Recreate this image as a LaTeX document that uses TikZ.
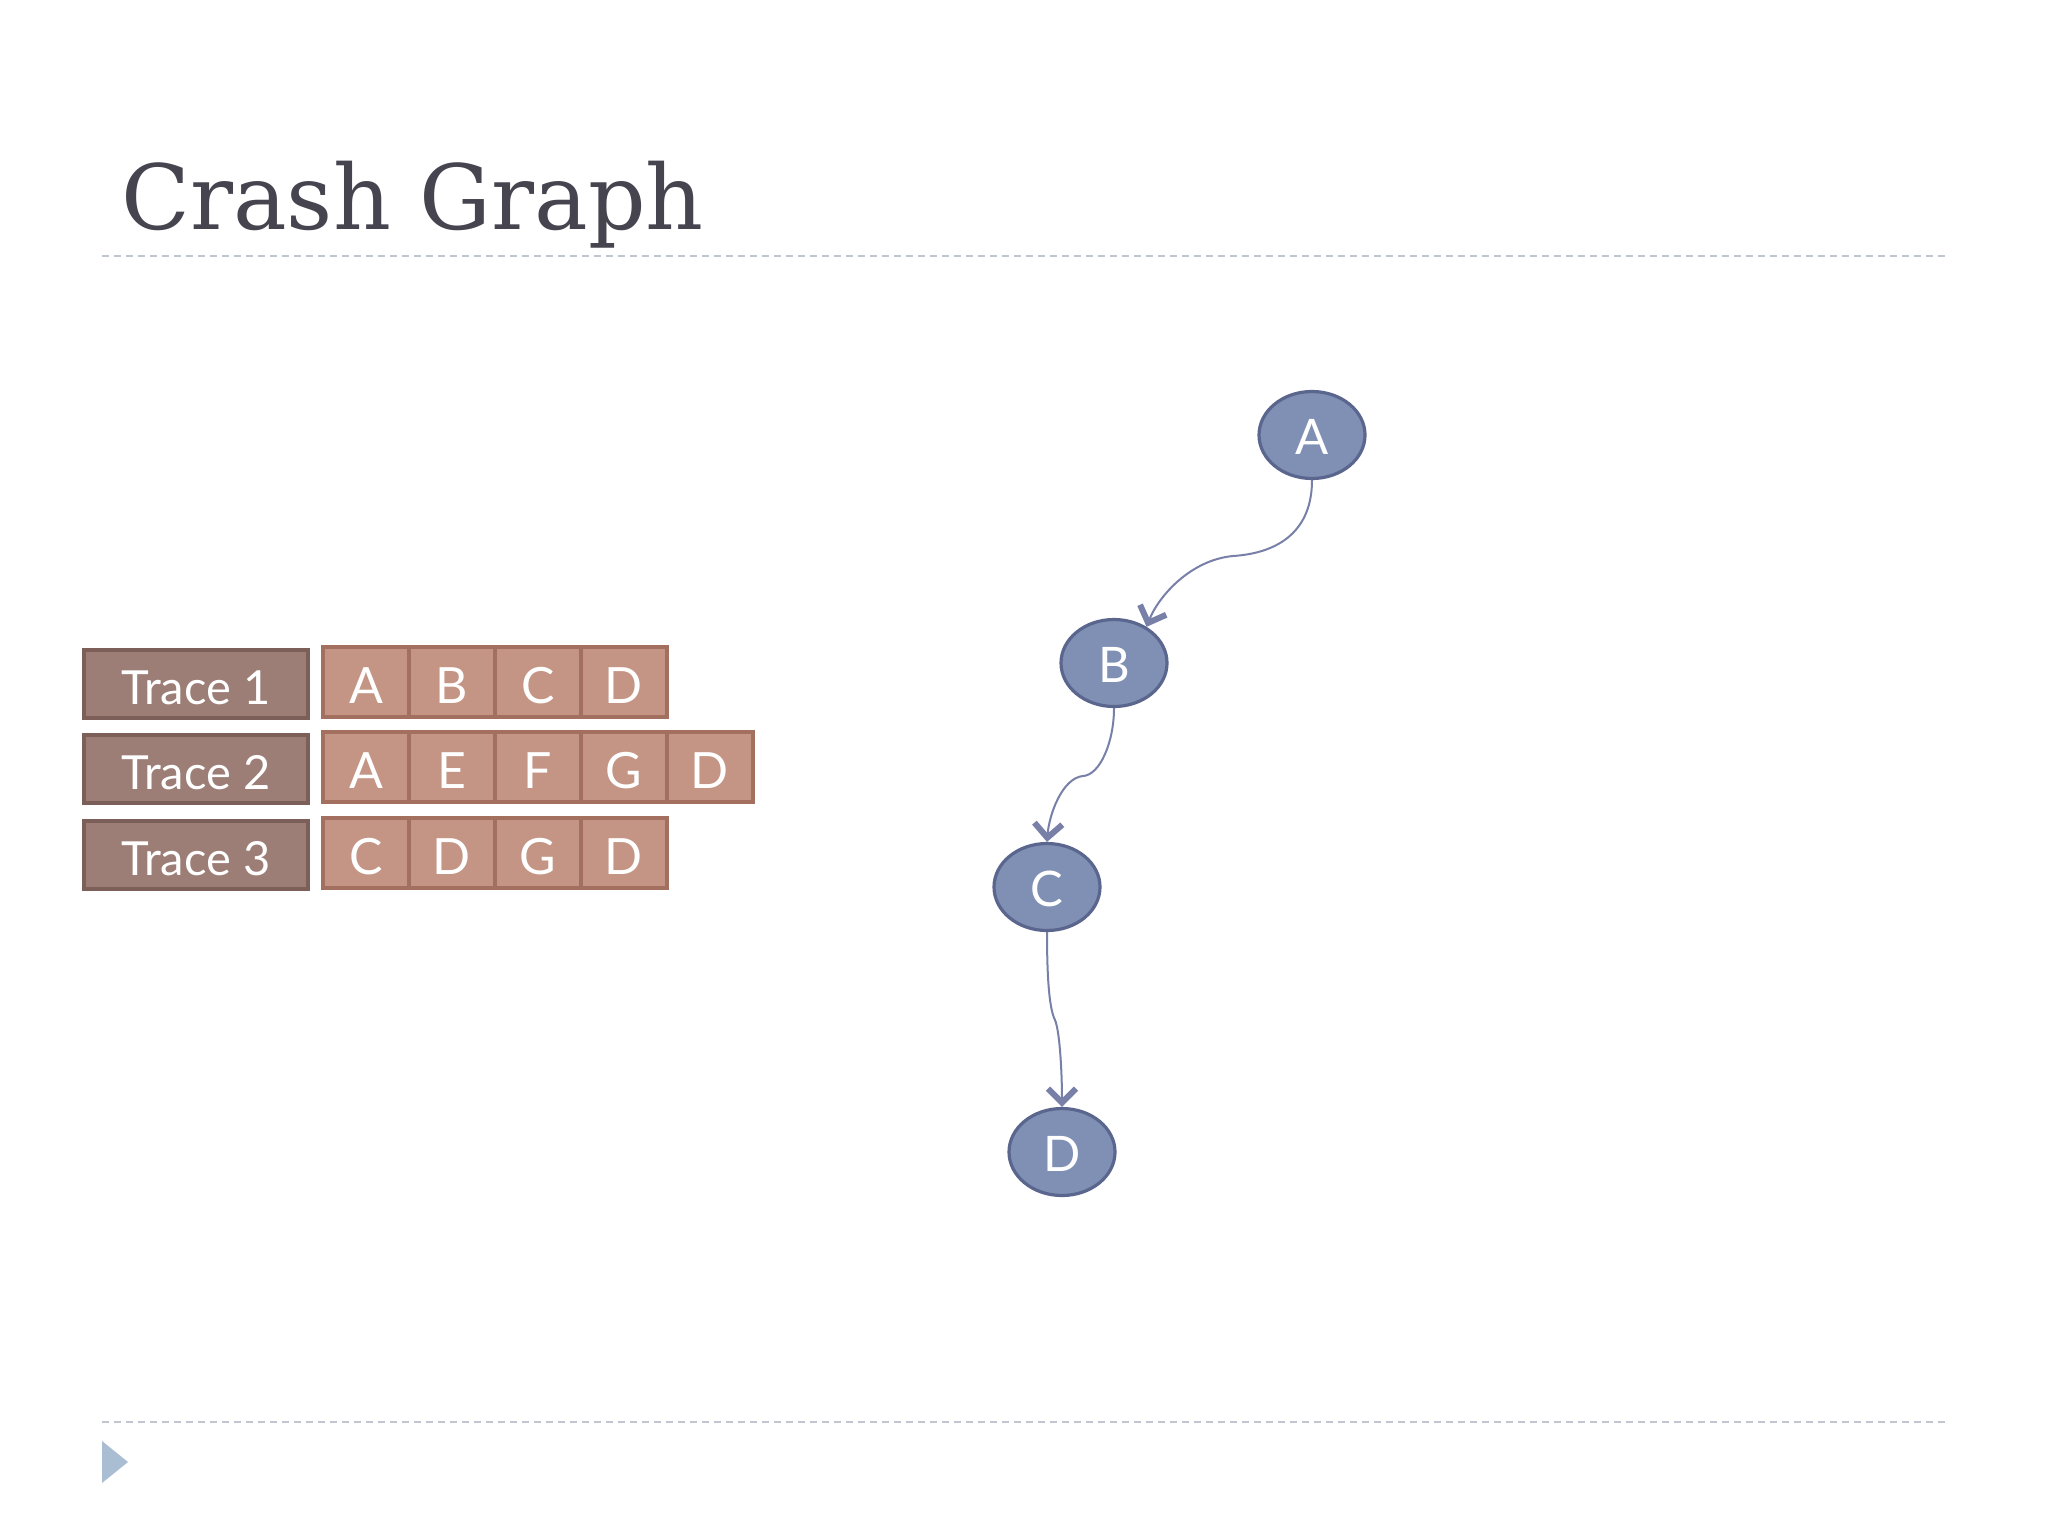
\documentclass[tikz,border=0pt]{standalone}
\usepackage{fontspec}
\setmainfont{DejaVu Serif}
\newfontfamily\gill{Lato}
\usetikzlibrary{shapes.geometric,arrows.meta}
\definecolor{titlecol}{HTML}{45444F}
\definecolor{dashcol}{HTML}{BFC6CF}
\definecolor{trifill}{HTML}{A9BDD3}
\definecolor{tracefill}{HTML}{9C7E76}
\definecolor{tracedraw}{HTML}{7B5F58}
\definecolor{cellfill}{HTML}{C49584}
\definecolor{celldraw}{HTML}{A3705F}
\definecolor{nodefill}{HTML}{8090B4}
\definecolor{nodedraw}{HTML}{5A668E}
\definecolor{edgecol}{HTML}{7880A8}
\tikzset{
  tracebox/.style={rectangle, draw=tracedraw, fill=tracefill, line width=1.6pt,
    minimum width=112pt, minimum height=34pt, inner sep=0pt, text=white,
    text height=20.5pt, text depth=0pt,
    font=\gill\fontsize{23.5}{23.5}\selectfont},
  cellbox/.style={rectangle, draw=celldraw, fill=cellfill, line width=1.6pt,
    minimum width=43pt, minimum height=35pt, inner sep=0pt, text=white,
    text height=21.5pt, text depth=0pt,
    font=\gill\fontsize{25}{25}\selectfont},
  gnode/.style={ellipse, draw=nodedraw, fill=nodefill, line width=1.6pt,
    minimum width=53pt, minimum height=43.5pt, inner sep=0pt, text=white,
    text height=19.5pt, text depth=0pt,
    font=\gill\fontsize{24.5}{24.5}\selectfont},
  gedge/.style={draw=edgecol, line width=1pt,
    -{Straight Barb[length=7pt,width=14pt,line width=3pt]}},
  rule/.style={draw=dashcol, line width=1pt, dash pattern=on 3.5pt off 2.5pt}
}
\begin{document}
\begin{tikzpicture}[x=0.5pt,y=-0.5pt]
\useasboundingbox[fill=white] (0,0) rectangle (2048,1536);
% title
\node[anchor=base west, inner sep=0pt, text=titlecol, font=\fontsize{45}{45}\selectfont] (title) at (121,229) {Crash Graph};
\coordinate (r1a) at (102,256); \coordinate (r1b) at (1946,256);
\coordinate (r2a) at (102,1422); \coordinate (r2b) at (1946,1422);
\draw[rule] (r1a) -- (r1b);
\draw[rule] (r2a) -- (r2b);
\fill[trifill] (102,1441) -- (128,1462) -- (102,1483) -- cycle;
% traces
\node[tracebox] (t1) at (196,684) {Trace 1};
\node[tracebox] (t2) at (196,769) {Trace 2};
\node[tracebox] (t3) at (196,855) {Trace 3};
\foreach \l [count=\i] in {A,B,C,D} \node[cellbox] (a\i) at (280+86*\i,682) {\l};
\foreach \l [count=\i] in {A,E,F,G,D} \node[cellbox] (b\i) at (280+86*\i,767) {\l};
\foreach \l [count=\i] in {C,D,G,D} \node[cellbox] (c\i) at (280+86*\i,853) {\l};
% graph
\node[gnode] (A) at (1312,435) {A};
\node[gnode] (B) at (1114,663) {B};
\node[gnode] (C) at (1047,887) {C};
\node[gnode] (D) at (1062,1152) {D};
\draw[gedge] (A.south) .. controls (1312,530) and (1280,553) .. (1233,556) .. controls (1190,560) and (1158,597) .. (B.48);
\draw[gedge] (B.south) .. controls (1114,742) and (1100,775) .. (1083,776) .. controls (1062,778) and (1049,815) .. (C.north);
\draw[gedge] (C.south) .. controls (1047,985) and (1050,1010) .. (1055,1020) .. controls (1060,1032) and (1062,1075) .. (D.north);
\end{tikzpicture}
\end{document}
